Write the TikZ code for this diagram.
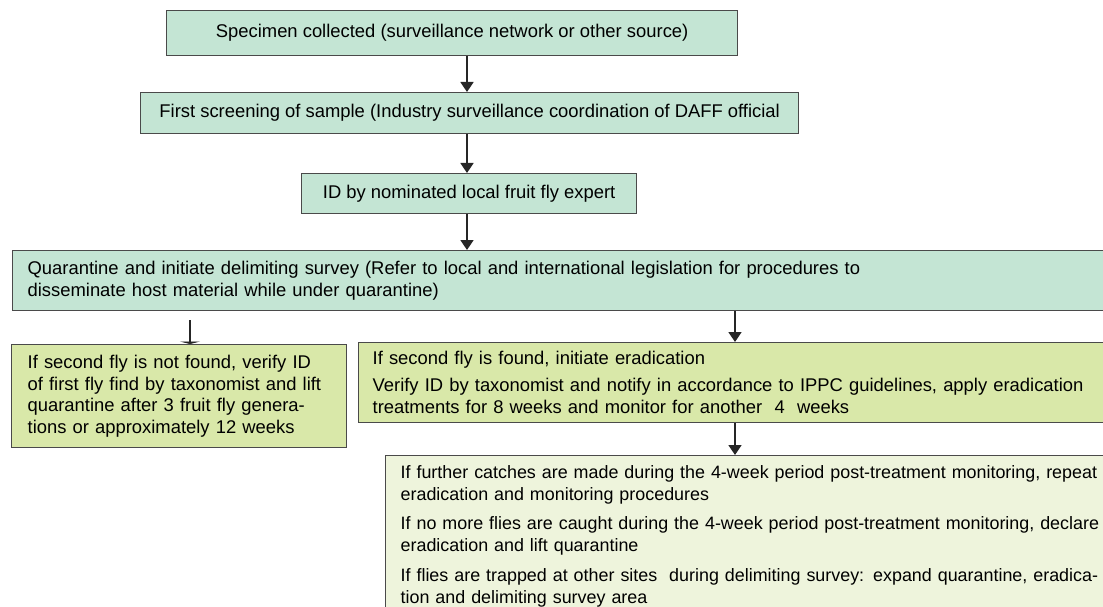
\documentclass[tikz,border=0pt]{standalone}
\usepackage{fontspec}
\setmainfont{Liberation Sans}
\usetikzlibrary{arrows.meta,positioning,calc}
\definecolor{stagefill}{HTML}{C4E5D4}
\definecolor{branchfill}{HTML}{D9E8A9}
\definecolor{followfill}{HTML}{EEF4DC}
\definecolor{edgegray}{HTML}{4A4A4A}

\begin{document}
\begin{tikzpicture}[x=1pt,y=-1pt,>={Triangle[length=10pt,width=13pt]}]
    \tikzstyle{box}=[rectangle,draw=edgegray,line width=1.3pt,anchor=north west,inner sep=0pt,font=\fontsize{18.4}{21.5}\selectfont]
    \tikzstyle{stage}=[box,fill=stagefill,align=center]
    \tikzstyle{note}=[box,align=left]
    \tikzstyle{flow}=[->,line width=1.8pt,draw=black!85]

    \clip (0,0) rectangle (1103,607);

    % main column
    \node[stage,minimum width=571pt,minimum height=45pt](spec) at (166,10)
      {Specimen collected (surveillance network or other source)};
    \node[stage,minimum width=658pt,minimum height=41pt](screen) at (140,92)
      {First screening of sample (Industry surveillance coordination of DAFF official};
    \node[stage,minimum width=335pt,minimum height=40pt](idexp) at (301,173)
      {ID by nominated local fruit fly expert};
    \node[note,fill=stagefill,minimum width=1110pt,minimum height=60pt,text width=1080pt,inner xsep=15pt](quar) at (12,250)
      {Quarantine and initiate delimiting survey (Refer to local and international legislation for procedures to\\
       disseminate host material while under quarantine)};

    % branches
    \node[note,fill=branchfill,minimum width=335pt,minimum height=103pt,text width=303pt,inner xsep=16pt](notfound) at (11,344)
      {If second fly is not found, verify ID\\
       of first fly find by taxonomist and lift\\
       quarantine after 3 fruit fly genera-\\
       tions or approximately 12 weeks};
    \node[note,fill=branchfill,minimum width=760pt,minimum height=80pt,text width=732pt,inner xsep=14pt](found) at (358,342)
      {If second fly is found, initiate eradication\\[5.5pt]
       Verify ID by taxonomist and notify in accordance to IPPC guidelines, apply eradication\\
       treatments for 8 weeks and monitor for another\ \ 4\ \ weeks};
    \node[note,fill=followfill,minimum width=760pt,text width=730pt,inner xsep=15pt,inner ysep=9.5pt,font=\fontsize{17.9}{22}\selectfont](further) at (385,455)
      {If further catches are made during the 4-week period post-treatment monitoring, repeat\\
       eradication and monitoring procedures\\[7.5pt]
       If no more flies are caught during the 4-week period post-treatment monitoring, declare\\
       eradication and lift quarantine\\[7.5pt]
       If flies are trapped at other sites\ \ during delimiting survey: expand quarantine, eradica-\\
       tion and delimiting survey area\\[12pt]};

    \coordinate (axis) at (467,0);
    \coordinate (rightaxis) at (735,0);
    \coordinate (lefttap) at (190,320);

    \draw[flow] (spec.south -| axis) -- (screen.north -| axis);
    \draw[flow] (screen.south -| axis) -- (idexp.north -| axis);
    \draw[flow] (idexp.south -| axis) -- (quar.north -| axis);
    \draw[line width=1.8pt,draw=black!85,-{Triangle[length=2.5pt,width=20pt]}] (lefttap) -- (notfound.north -| lefttap);
    \draw[flow] (quar.south -| rightaxis) -- (found.north -| rightaxis);
    \draw[flow] (found.south -| rightaxis) -- (further.north -| rightaxis);
\end{tikzpicture}
\end{document}
